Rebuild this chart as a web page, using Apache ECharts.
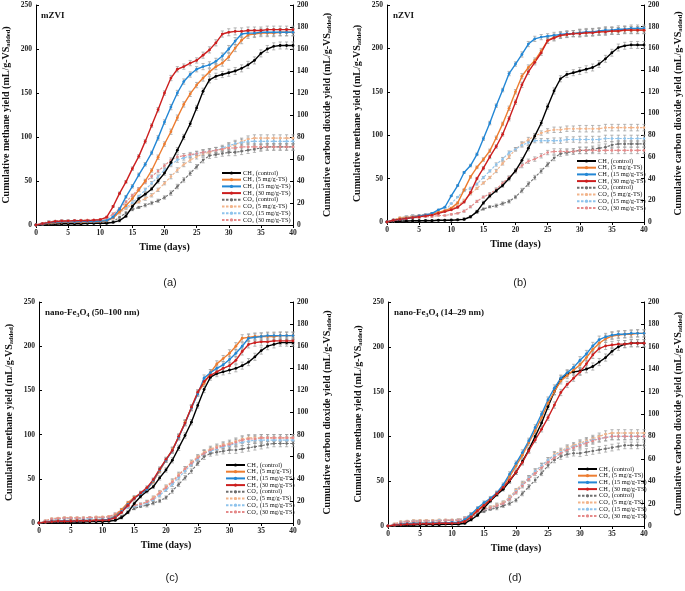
<!DOCTYPE html>
<html>
<head>
<meta charset="utf-8">
<script src="https://cdn.jsdelivr.net/npm/echarts@6/dist/echarts.min.js"></script>
<style>
  html, body { margin: 0; padding: 0; background: #fff; }
  #chart { width: 685px; height: 591px; }
</style>
</head>
<body>
<div id="chart"></div>
<script>
// time axis (days)
const days = [0,1,2,3,4,5,6,7,8,9,10,11,12,13,14,15,16,17,18,19,20,21,22,23,24,25,26,27,28,29,30,31,32,33,34,35,36,37,38,39,40];

const seriesNames = ['CH₄ (control)','CH₄ (5 mg/g-TS)','CH₄ (15 mg/g-TS)','CH₄ (30 mg/g-TS)',
                     'CO₂ (control)','CO₂ (5 mg/g-TS)','CO₂ (15 mg/g-TS)','CO₂ (30 mg/g-TS)'];

// (a) mZVI
const aCH4ctrl = [0,0.5,1,1,1.5,1.5,1.5,1.5,2,2,2,2,3,5,10,21,30,35,41,50,59,71,85,100,115,133,152,165,169,171,173,175,178,182,187,195,200,203,204,204,204];
const aCH4_5   = [0,1,2,2.5,3,3,3,3,3.5,3.5,4,4.5,8,15,22,30,40,50,62,77,92,106,122,137,149,159,167,174,180,184,191,201,210,216,217,218,218,218,219,219,219];
const aCH4_15  = [0,1,2.5,3,3.5,3.5,3.5,4,4,4,4.5,5,9,18,32,44,57,69,82,99,117,134,150,163,171,177,180,182,186,192,200,209,217,218,218,219,219,219,219,219,219];
const aCH4_30  = [0,1.5,3,4,4.5,4.5,5,5,5,5.5,6,9,21,36,49,64,78,95,113,131,150,167,177,180,184,187,193,199,207,217,219,220,220,221,221,221,222,222,222,222,222];
const aCO2ctrl = [0,0.5,1,1,1,1.5,1.5,1.5,1.5,1.5,2,2,3,7,11,14,16,18,20,22,25,29,35,41,47,53,59,63,64,65,66,66,67,68,69,70,71,71,71,71,71];
const aCO2_5   = [0,1.5,3,3.5,4,4,4,4,4.5,4.5,4.5,5,7,11,15,18,21,24,27,32,38,44,50,55,59,62,65,66,68,69,71,73,76,78,79,79,79,79,79,79,79];
const aCO2_15  = [0,1.5,3,3.5,4,4,4,4,4,4.5,4.5,5,8,12,16,20,26,32,38,44,50,55,59,61,63,65,66,67,68,70,72,74,75,76,76,76,76,76,76,76,76];
const aCO2_30  = [0,1.5,3,3.5,4,4,4,4.5,4.5,4.5,5,6,10,15,21,27,33,39,44,49,54,59,62,63,64,65,66,67,68,69,70,70,71,71,71,71,71,71,71,71,71];

// (b) nZVI
const bCH4ctrl = [0,0.5,1,1,1.5,1.5,1.5,1.5,2,2,2,2.5,3,6,12,22,30,36,42,50,59,71,85,99,114,133,151,165,170,172,174,176,178,182,188,195,201,203,204,204,204];
const bCH4_5   = [0,2,4,5,6,7,8,9,11,13,16,22,37,52,63,72,82,97,113,131,150,168,178,186,197,209,213,215,216,217,218,218,219,219,220,220,220,221,221,221,221];
const bCH4_15  = [0,2,3,4,5,7,8,10,14,17,30,42,57,65,78,96,114,134,152,171,182,193,205,211,213,214,215,216,217,217,218,219,219,220,221,221,222,222,223,223,223];
const bCH4_30  = [0,2,3,4,5,6,7,8,10,12,14,17,23,34,50,62,75,87,101,119,138,158,173,184,195,209,212,215,216,217,217,218,218,219,219,220,220,221,221,221,221];
const bCO2ctrl = [0,0.5,1,1,1,1,1.5,1.5,1.5,1.5,2,2,3,5,9,12,14,15,17,19,23,29,35,41,47,53,59,63,64,65,66,66,67,68,69,71,72,72,72,72,72];
const bCO2_5   = [0,2,4,5,6,6,7,8,9,10,12,15,20,26,31,36,41,47,54,60,67,72,76,79,82,84,85,85,86,86,86,86,86,86,87,87,87,87,87,87,87];
const bCO2_15  = [0,2,3,5,6,6,7,8,9,10,17,23,29,31,35,41,47,53,58,64,67,71,73,75,75,75,75,75,76,76,76,76,76,76,77,77,77,77,77,77,77];
const bCO2_30  = [0,1,2,3,4,4,5,5,6,6,7,8,10,14,19,23,26,30,36,41,47,52,56,58,61,64,65,65,65,65,66,66,66,66,66,66,66,66,66,66,66];

// (c) nano-Fe3O4 (50–100 nm)
const cCH4ctrl = [0,0.5,1,1,1,1,1,1,1.5,1.5,1.5,2,3,6,12,22,30,36,41,51,60,71,85,99,114,133,151,165,169,171,173,175,178,182,188,195,200,202,204,204,204];
const cCH4_5   = [0,1,2,2.5,2.5,3,3,3,3,3.5,3.5,4,8,15,23,29,33,38,47,59,71,83,97,114,130,147,158,170,180,186,192,200,209,210,211,211,211,211,212,212,212];
const cCH4_15  = [0,1,2,2,2.5,2.5,2.5,3,3,3,3.5,4,7,13,21,28,33,38,48,60,71,82,97,113,130,146,164,170,175,179,185,192,200,209,210,211,212,212,212,212,212];
const cCH4_30  = [0,1,1.5,2,2,2,2.5,2.5,2.5,3,3,3.5,6,12,20,28,34,40,49,61,72,82,98,113,131,148,160,167,171,175,178,184,194,202,204,205,205,206,206,206,206];
const cCO2ctrl = [0,1,1,1.5,1.5,1.5,1.5,1.5,2,2,2,2,3,6,10,13,15,16,18,20,23,29,35,41,47,54,60,63,64,65,66,66,67,68,69,70,71,72,72,72,72];
const cCO2_5   = [0,2,4,4.5,5,5,5,5,5,5.5,5.5,6,8,12,15,16,17,19,23,28,33,38,44,49,55,60,64,67,69,71,72,74,76,77,77,77,77,77,77,77,77];
const cCO2_15  = [0,1.5,3,3.5,4,4,4,4,4,4.5,4.5,5,7,11,14,15,16,18,21,25,30,35,41,47,53,58,63,65,67,69,70,72,73,74,75,75,75,75,75,75,75];
const cCO2_30  = [0,2,3.5,4,4.5,4.5,4.5,4.5,5,5,5,5.5,8,12,15,16,17,19,22,27,32,37,43,49,54,59,63,66,68,70,71,73,75,76,76,77,77,77,77,77,77];

// (d) nano-Fe3O4 (14–29 nm)
const dCH4ctrl = [0,0.5,1,1,1,1.5,1.5,1.5,1.5,2,2,2,3,7,12,20,28,35,41,50,60,72,85,100,115,133,150,164,170,172,173,175,178,183,188,195,200,203,204,204,204];
const dCH4_5   = [0,1,2,2.5,3,3,3,3,3.5,3.5,3.5,4,6,12,18,24,30,36,44,55,67,79,93,106,121,137,150,162,168,174,180,188,197,204,209,212,213,214,214,215,215];
const dCH4_15  = [0,1,2,2.5,3,3,3,3.5,3.5,3.5,4,4,7,13,20,26,31,37,46,58,70,82,95,110,125,141,154,165,171,177,185,192,201,208,211,213,214,214,215,215,215];
const dCH4_30  = [0,1,1.5,2,2,2.5,2.5,2.5,3,3,3,3.5,5,10,17,23,29,36,43,51,60,71,84,96,108,121,135,149,158,165,172,181,191,198,201,202,203,203,204,204,204];
const dCO2ctrl = [0,0.5,1,1,1.5,1.5,1.5,1.5,1.5,2,2,2,3,7,11,13,15,16,18,20,23,29,35,41,47,54,59,62,64,65,65,66,67,68,69,70,71,72,72,72,72];
const dCO2_5   = [0,2,4,4.5,5,5,5,5,5.5,5.5,5.5,6,7,11,14,16,17,19,21,26,32,38,43,49,54,59,64,67,70,72,74,76,78,80,82,83,83,83,83,83,83];
const dCO2_15  = [0,1.5,3,4,4.5,4.5,4.5,4.5,5,5,5,5.5,7,11,14,15,16,18,20,25,31,37,43,49,54,59,63,66,69,71,73,75,77,78,79,80,80,80,80,80,80];
const dCO2_30  = [0,1.5,3,4,4,4.5,4.5,4.5,4.5,5,5,5,7,10,13,15,16,18,20,24,30,36,42,47,52,57,61,65,68,70,72,74,76,78,79,80,80,80,80,80,80];

// typical error-bar half widths, per day
const errCH4 = [0,0.5,0.5,0.5,0.5,0.5,0.5,0.5,0.5,0.5,0.5,1,1,1.5,1.5,2,2,2,2,2.5,2.5,3,3,3,3,3,3.5,3.5,3.5,3.5,4,4,4,4,4,4,4,4,4,4,4];
const errCO2 = [0,0.5,0.5,0.5,0.5,0.5,0.5,0.5,0.5,0.5,0.5,0.5,1,1,1,1,1,1.5,1.5,1.5,1.5,2,2,2,2,2,2.5,2.5,2.5,2.5,3,3,3,3,3,3,3,3,3,3,3];

const panels = [
  { label: '(a)', title: '{b|mZVI}',
    data: [aCH4ctrl, aCH4_5, aCH4_15, aCH4_30, aCO2ctrl, aCO2_5, aCO2_15, aCO2_30] },
  { label: '(b)', title: '{b|nZVI}',
    data: [bCH4ctrl, bCH4_5, bCH4_15, bCH4_30, bCO2ctrl, bCO2_5, bCO2_15, bCO2_30] },
  { label: '(c)', title: '{b|nano-Fe}{s|3}{b|O}{s|4}{b| (50–100 nm)}',
    data: [cCH4ctrl, cCH4_5, cCH4_15, cCH4_30, cCO2ctrl, cCO2_5, cCO2_15, cCO2_30] },
  { label: '(d)', title: '{b|nano-Fe}{s|3}{b|O}{s|4}{b| (14–29 nm)}',
    data: [dCH4ctrl, dCH4_5, dCH4_15, dCH4_30, dCO2ctrl, dCO2_5, dCO2_15, dCO2_30] }
];

// layout of the four plots
const grids = [
  { left: 35,  top: 5,   width: 258, height: 220 },
  { left: 387, top: 5,   width: 260, height: 217 },
  { left: 39,  top: 302, width: 254, height: 221 },
  { left: 388, top: 302, width: 258, height: 224 }
];
const legendPos = [
  { left: 221, top: 170 },
  { left: 576, top: 158 },
  { left: 225, top: 462 },
  { left: 577, top: 466 }
];
const labelPos = [[170, 283], [520, 283], [172, 578], [515, 578]];

const colors  = ['#000000', '#ED7D31', '#2387D5', '#CC1F1F', '#6E6E6E', '#F2B48A', '#8EC3EC', '#E58A8A'];
const serif = 'Liberation Serif';

const tickLabel = { fontFamily: serif, fontWeight: 'bold', fontSize: 7.5, color: '#222', margin: 4 };
const axisLine = { show: true, lineStyle: { color: '#000', width: 1 } };
const yTick = { show: true, inside: true, length: 3, lineStyle: { color: '#000' } };
const xTick = { show: true, inside: false, length: 3, lineStyle: { color: '#000' } };
const nameRich = {
  t: { fontFamily: serif, fontWeight: 'bold', fontSize: 10, color: '#111', lineHeight: 12 },
  s: { fontFamily: serif, fontWeight: 'bold', fontSize: 6.5, color: '#111', lineHeight: 12, verticalAlign: 'bottom', padding: [4, 0, 0, 0] }
};

function errorBars(params, api) {
  const x = api.value(0);
  const lo = api.coord([x, api.value(1)]);
  const hi = api.coord([x, api.value(2)]);
  const w = 1.6;
  const st = { stroke: '#9a9a9a', lineWidth: 0.7 };
  return {
    type: 'group',
    children: [
      { type: 'line', shape: { x1: lo[0], y1: lo[1], x2: hi[0], y2: hi[1] }, style: st },
      { type: 'line', shape: { x1: lo[0] - w, y1: lo[1], x2: lo[0] + w, y2: lo[1] }, style: st },
      { type: 'line', shape: { x1: hi[0] - w, y1: hi[1], x2: hi[0] + w, y2: hi[1] }, style: st }
    ]
  };
}

const option = {
  animation: false,
  backgroundColor: '#fff',
  grid: [], xAxis: [], yAxis: [], series: [], legend: [], title: [], graphic: []
};

panels.forEach((p, g) => {
  const gr = grids[g];
  option.grid.push(Object.assign({ show: false }, gr));

  option.xAxis.push({
    type: 'value', gridIndex: g, min: 0, max: 40, interval: 5,
    name: 'Time (days)', nameLocation: 'middle', nameGap: 17,
    nameTextStyle: { fontFamily: serif, fontWeight: 'bold', fontSize: 10, color: '#111' },
    axisLine: axisLine, axisTick: xTick, axisLabel: tickLabel, splitLine: { show: false }
  });

  option.yAxis.push({
    type: 'value', gridIndex: g, position: 'left', min: 0, max: 250, interval: 50,
    name: '{t|Cumulative methane yield (mL/g-VS}{s|added}{t|)}',
    nameLocation: 'middle', nameGap: 24, nameRotate: 90,
    nameTextStyle: { rich: nameRich },
    axisLine: axisLine, axisTick: yTick, axisLabel: tickLabel, splitLine: { show: false }
  });
  option.yAxis.push({
    type: 'value', gridIndex: g, position: 'right', min: 0, max: 200, interval: 20,
    name: '{t|Cumulative carbon dioxide yield (mL/g-VS}{s|added}{t|)}',
    nameLocation: 'middle', nameGap: 28, nameRotate: 90,
    nameTextStyle: { rich: nameRich },
    axisLine: axisLine, axisTick: yTick, axisLabel: tickLabel, splitLine: { show: false }
  });

  p.data.forEach((arr, k) => {
    const isCO2 = k >= 4;
    const err = isCO2 ? errCO2 : errCH4;
    const yIdx = isCO2 ? 2 * g + 1 : 2 * g;
    option.series.push({
      type: 'custom',
      xAxisIndex: g,
      yAxisIndex: yIdx,
      renderItem: errorBars,
      data: days.map((d, i) => [d, arr[i] - err[i], arr[i] + err[i]]),
      silent: true,
      z: 1
    });
    option.series.push({
      name: seriesNames[k],
      type: 'line',
      xAxisIndex: g,
      yAxisIndex: yIdx,
      data: days.map((d, i) => [d, arr[i]]),
      symbol: 'circle',
      symbolSize: isCO2 ? 2.6 : 2.8,
      showSymbol: true,
      lineStyle: { color: colors[k], width: isCO2 ? 1.1 : 1.4, type: isCO2 ? [2.5, 1.5] : 'solid' },
      itemStyle: { color: colors[k], borderWidth: 0 },
      z: isCO2 ? 2 : 3
    });
  });

  option.legend.push({
    orient: 'vertical',
    left: legendPos[g].left, top: legendPos[g].top,
    itemWidth: 19, itemHeight: 4, itemGap: 0.7,
    padding: 0,
    textStyle: { fontFamily: serif, fontSize: 6.4, color: '#111', lineHeight: 6, padding: [0, 0, 0, -3] },
    data: seriesNames
  });

  option.title.push({
    text: p.title,
    left: gr.left + 6, top: gr.top + 5,
    padding: 0,
    textStyle: {
      rich: {
        b: { fontFamily: serif, fontWeight: 'bold', fontSize: 9, color: '#111', lineHeight: 11 },
        s: { fontFamily: serif, fontWeight: 'bold', fontSize: 6, color: '#111', lineHeight: 11, verticalAlign: 'bottom', padding: [3, 0, 0, 0] }
      }
    }
  });

  option.graphic.push({
    type: 'text',
    x: labelPos[g][0], y: labelPos[g][1],
    style: { text: p.label, font: '11px "Liberation Sans"', fill: '#222', textAlign: 'center', textVerticalAlign: 'middle' }
  });
});

const chart = echarts.init(document.getElementById('chart'), null, { renderer: 'canvas' });
chart.setOption(option);
</script>
</body>
</html>
